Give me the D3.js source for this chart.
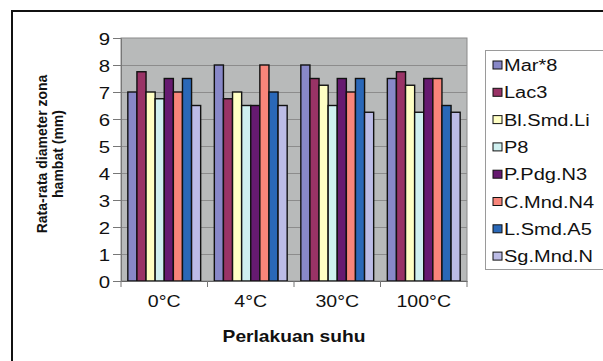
<!DOCTYPE html>
<html>
<head>
<meta charset="utf-8">
<script src="https://cdn.jsdelivr.net/npm/d3@7"></script>
<style>
  html, body { margin: 0; padding: 0; background: #fff; }
  svg { display: block; font-family: "Liberation Sans", Arial, sans-serif; }
</style>
</head>
<body>
<svg id="chart" width="603" height="361"></svg>
<script>
// Temperature treatments (x categories)
const categories = ["0°C", "4°C", "30°C", "100°C"];
// Isolate names (series)
const seriesNames = ["Mar*8", "Lac3", "Bl.Smd.Li", "P8", "P.Pdg.N3", "C.Mnd.N4", "L.Smd.A5", "Sg.Mnd.N"];
// Mean inhibition zone diameter (mm) per isolate, one value per treatment
const marValues  = [7.0, 8.0, 8.0, 7.5];
const lacValues  = [7.75, 6.75, 7.5, 7.75];
const blValues   = [7.0, 7.0, 7.25, 7.25];
const p8Values   = [6.75, 6.5, 6.5, 6.25];
const ppdgValues = [7.5, 6.5, 7.5, 7.5];
const cmndValues = [7.0, 8.0, 7.0, 7.5];
const lsmdValues = [7.5, 7.0, 7.5, 6.5];
const sgValues   = [6.5, 6.5, 6.25, 6.25];
const yTicks = [0, 1, 2, 3, 4, 5, 6, 7, 8, 9];

const seriesValues = [marValues, lacValues, blValues, p8Values, ppdgValues, cmndValues, lsmdValues, sgValues];
const colors = ["#8888c8", "#993366", "#ffffc4", "#cff0f0", "#661a70", "#f8857a", "#2a68b8", "#bcbce6"];

const svg = d3.select("#chart");
const plot = { left: 121, right: 467, top: 38, bottom: 281 };

// Widen text glyphs horizontally around their anchor point
function widen(sel, sx) {
  sel.each(function () {
    const t = d3.select(this);
    const x = +t.attr("x") || 0, yy = +t.attr("y") || 0;
    t.attr("x", 0).attr("y", 0)
      .attr("transform", `translate(${x},${yy}) scale(${sx},1)`);
  });
}

// Outer chart frame (top and left edges visible)
svg.append("line").attr("x1", 11).attr("x2", 603).attr("y1", 11).attr("y2", 11)
  .attr("stroke", "#111").attr("stroke-width", 2);
svg.append("line").attr("x1", 12).attr("x2", 12).attr("y1", 10).attr("y2", 361)
  .attr("stroke", "#111").attr("stroke-width", 2);

const x0 = d3.scaleBand().domain(categories).range([plot.left, plot.right]).paddingInner(0).paddingOuter(0);
const gap = 1.5; // gap width relative to one bar
const barW = x0.bandwidth() / (seriesNames.length + gap);
const x1 = d3.scaleBand().domain(seriesNames)
  .range([barW * gap / 2, x0.bandwidth() - barW * gap / 2]).padding(0);
const y = d3.scaleLinear().domain([0, 9]).range([plot.bottom, plot.top]);

// Plot area background
svg.append("rect").attr("x", plot.left).attr("y", plot.top)
  .attr("width", plot.right - plot.left).attr("height", plot.bottom - plot.top)
  .attr("fill", "#b8baba").attr("stroke", "#8a8a8a").attr("stroke-width", 1);

// Horizontal gridlines
svg.append("g").selectAll("line").data(yTicks.filter(d => d > 0 && d < 9)).join("line")
  .attr("x1", plot.left).attr("x2", plot.right)
  .attr("y1", d => Math.round(y(d)) + 0.5).attr("y2", d => Math.round(y(d)) + 0.5)
  .attr("stroke", "#8c8c8c").attr("stroke-width", 1);

// Bars
const groups = svg.append("g").selectAll("g").data(categories).join("g")
  .attr("transform", d => `translate(${x0(d)},0)`);
groups.selectAll("rect")
  .data((c, ci) => seriesNames.map((s, si) => ({ s, si, v: seriesValues[si][ci] })))
  .join("rect")
  .attr("x", d => x1(d.s))
  .attr("y", d => y(d.v))
  .attr("width", x1.bandwidth())
  .attr("height", d => y(0) - y(d.v))
  .attr("fill", d => colors[d.si])
  .attr("stroke", "#111")
  .attr("stroke-width", 1.4);

// Y axis
const yAxis = svg.append("g").attr("transform", `translate(${plot.left},0)`)
  .call(d3.axisLeft(y).tickValues(yTicks).tickSize(8).tickPadding(3).tickFormat(d3.format("d")));
yAxis.select(".domain").attr("stroke", "#777");
yAxis.selectAll(".tick line").attr("stroke", "#777");
yAxis.selectAll("text").attr("font-size", 17).attr("fill", "#111").attr("dy", "0.36em");
widen(yAxis.selectAll("text"), 1.2);

// X axis
const xAxis = svg.append("g").attr("transform", `translate(0,${plot.bottom})`)
  .call(d3.axisBottom(x0).tickSize(0).tickPadding(16));
xAxis.select(".domain").attr("stroke", "#666");
xAxis.selectAll("text").attr("font-size", 17).attr("fill", "#111").attr("dy", "0.6em");
widen(xAxis.selectAll("text"), 1.15);
// Category boundary ticks
svg.append("g").selectAll("line")
  .data(categories.map(c => x0(c)).concat([plot.right]))
  .join("line")
  .attr("x1", d => d).attr("x2", d => d)
  .attr("y1", plot.bottom).attr("y2", plot.bottom + 6)
  .attr("stroke", "#777");

// Axis titles
const xTitle = svg.append("text").attr("x", (plot.left + plot.right) / 2).attr("y", 342)
  .attr("text-anchor", "middle").attr("font-size", 16).attr("font-weight", "bold")
  .attr("fill", "#111").text("Perlakuan suhu");
widen(xTitle, 1.2);
const yTitle = svg.append("text")
  .attr("transform", "translate(50,154) rotate(-90)")
  .attr("text-anchor", "middle").attr("font-size", 14).attr("font-weight", "bold").attr("fill", "#111");
yTitle.append("tspan").attr("x", 0).attr("dy", "-0.2em").text("Rata-rata diameter zona");
yTitle.append("tspan").attr("x", 0).attr("dy", "1.15em").text("hambat (mm)");

// Legend
const legend = svg.append("g").attr("transform", "translate(485,50)");
legend.append("rect").attr("x", 0.5).attr("y", 0.5).attr("width", 130).attr("height", 219)
  .attr("fill", "#fff").attr("stroke", "#9a9a9a");
const items = legend.selectAll("g.item").data(seriesNames).join("g").attr("class", "item")
  .attr("transform", (d, i) => `translate(0,${15 + i * 27.3})`);
items.append("rect").attr("x", 8).attr("y", -4).attr("width", 9).attr("height", 8)
  .attr("fill", (d, i) => colors[i]).attr("stroke", "#111").attr("stroke-width", 1);
const legendText = items.append("text").attr("x", 19).attr("y", 6).attr("font-size", 16)
  .attr("fill", "#111").text(d => d);
widen(legendText, 1.25);
</script>
</body>
</html>
